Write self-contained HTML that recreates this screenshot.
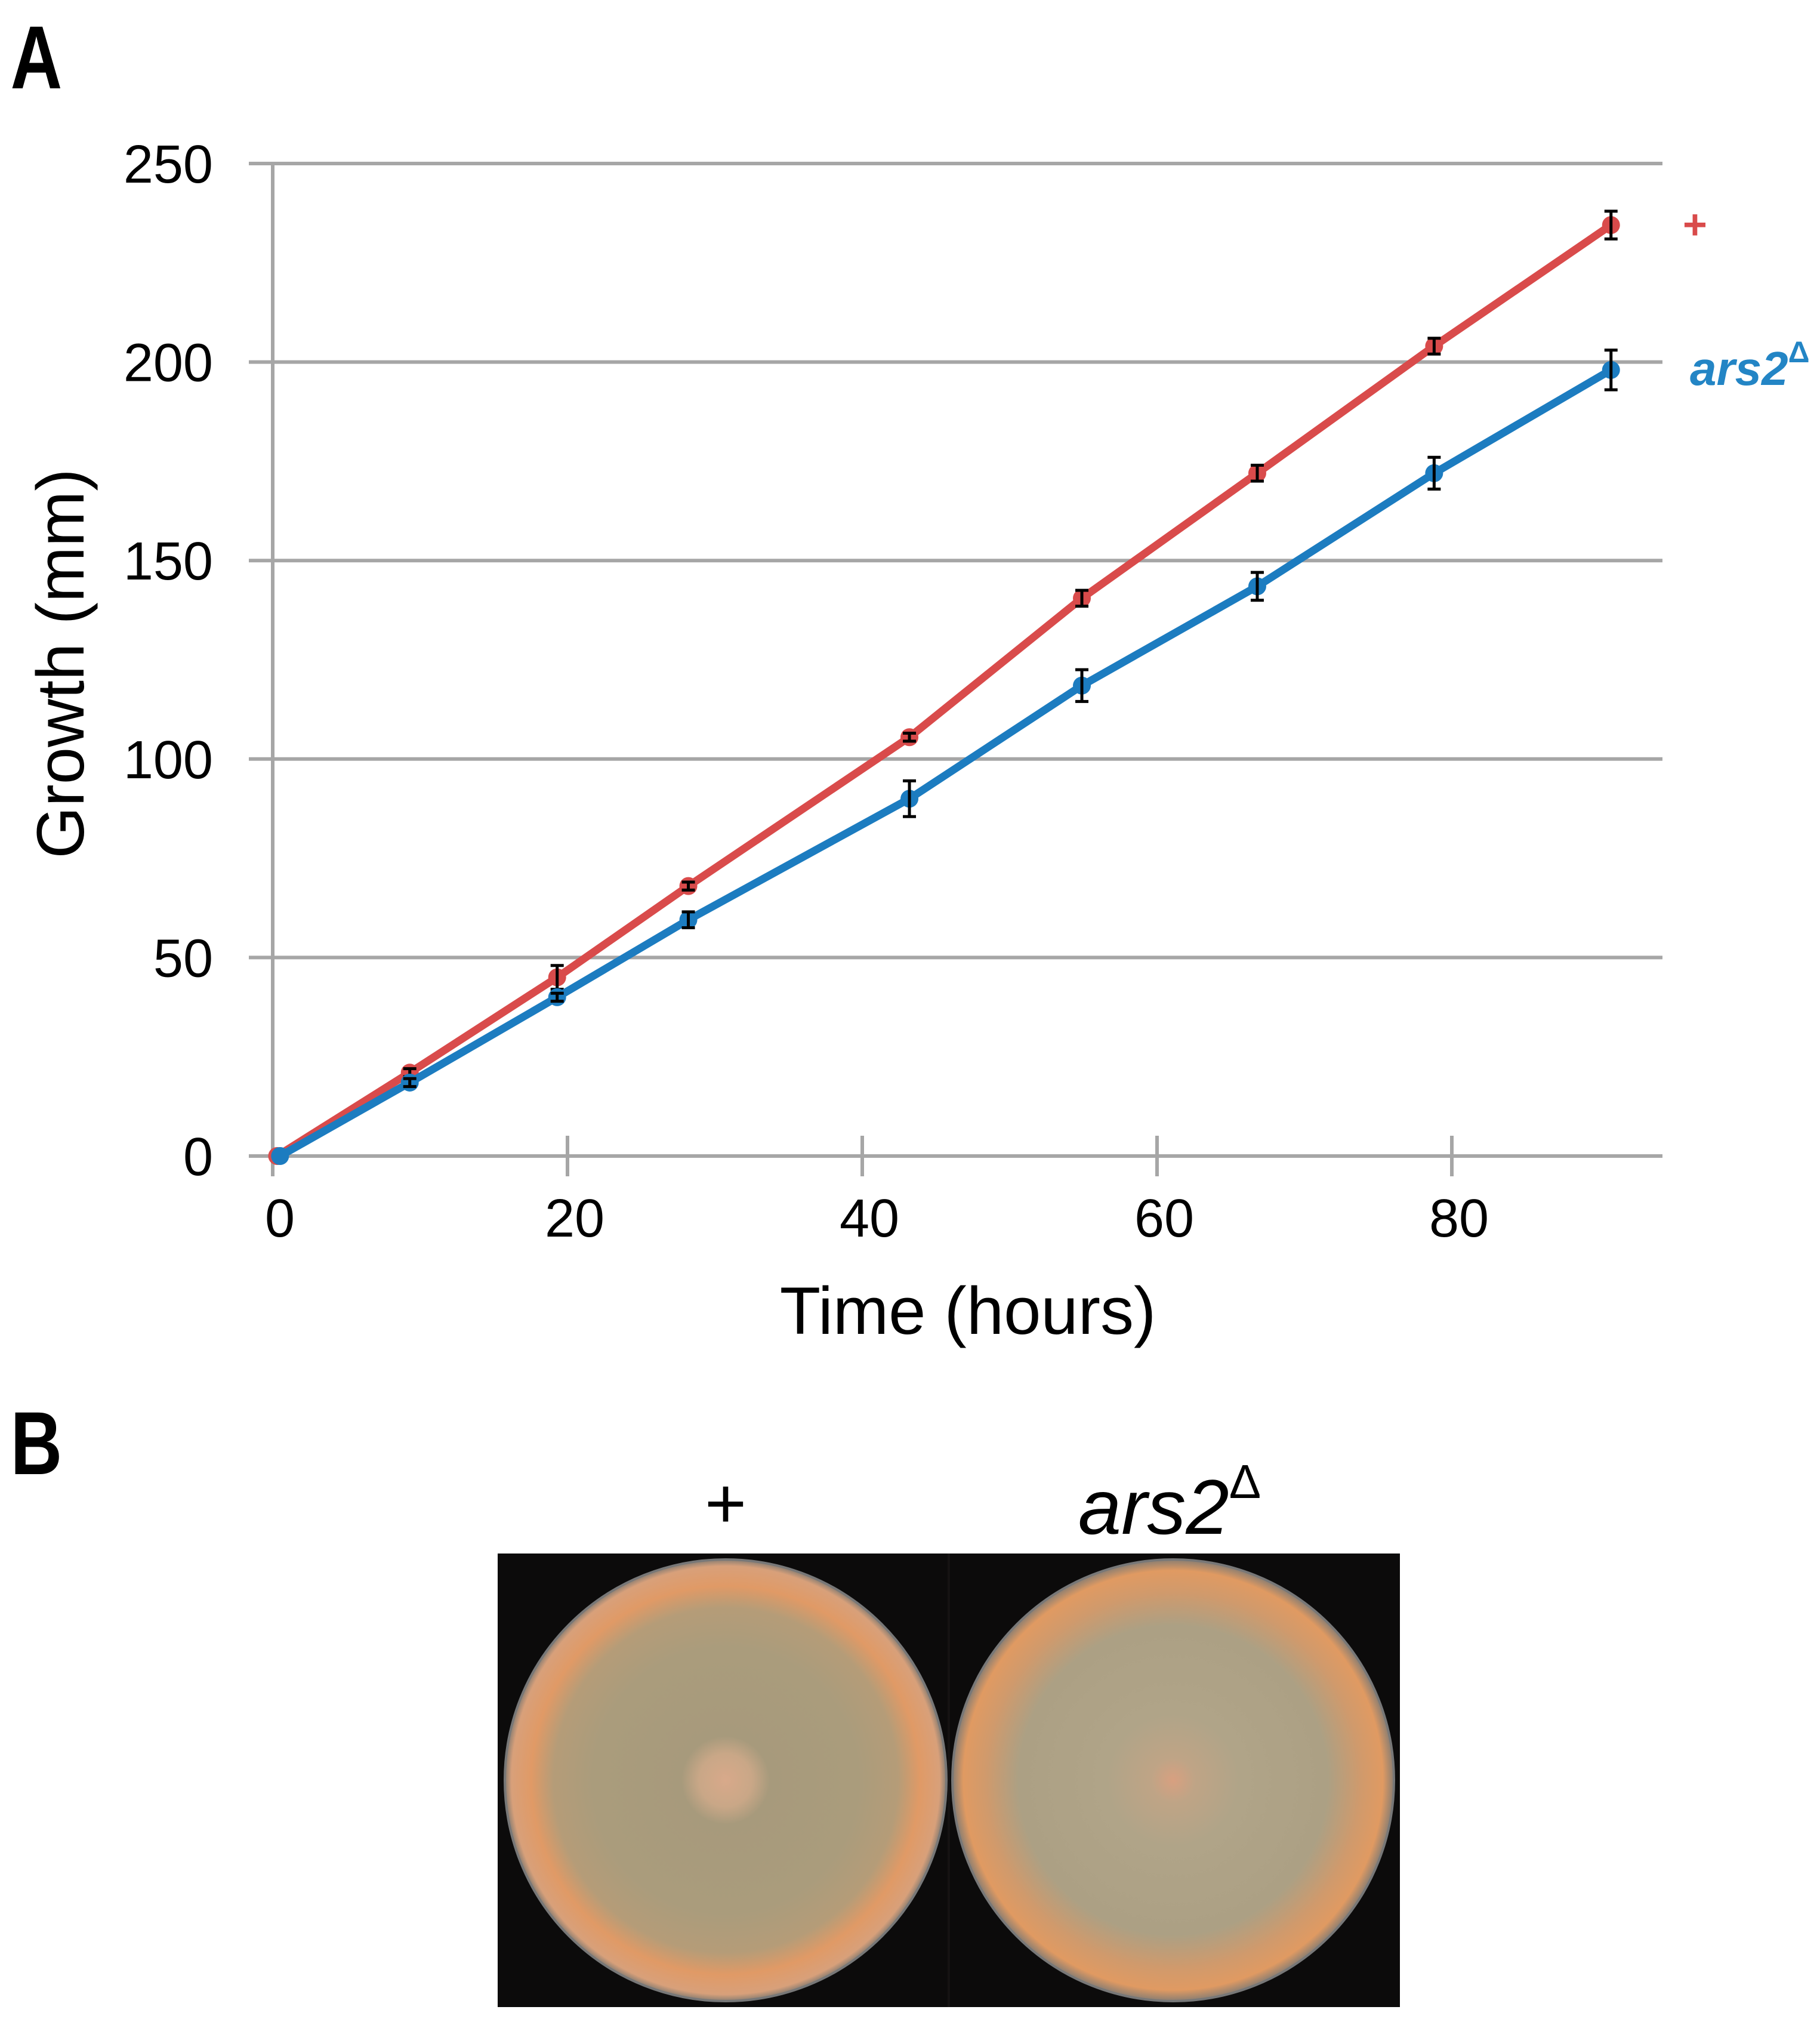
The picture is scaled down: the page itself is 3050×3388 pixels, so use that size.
<!DOCTYPE html>
<html><head><meta charset="utf-8"><style>
html,body{margin:0;padding:0;background:#fff;}
svg{display:block;}
text{font-family:"Liberation Sans",sans-serif;}
</style></head><body>
<svg id="fig" width="3050" height="3388" viewBox="0 0 3050 3388" xmlns="http://www.w3.org/2000/svg">
<defs>
<radialGradient id="plateA" cx="50%" cy="50%" r="50%">
<stop offset="0" stop-color="#d8a98a"/>
<stop offset="0.12" stop-color="#c9a787"/>
<stop offset="0.2" stop-color="#a79a7c"/>
<stop offset="0.6" stop-color="#aa9c7c"/>
<stop offset="0.78" stop-color="#b59c78"/>
<stop offset="0.88" stop-color="#e09a66"/>
<stop offset="0.97" stop-color="#d8a07a"/>
<stop offset="1" stop-color="#8a7e72"/>
</radialGradient>
<radialGradient id="plateB" cx="50%" cy="50%" r="50%">
<stop offset="0" stop-color="#d8a080"/>
<stop offset="0.1" stop-color="#bfa486"/>
<stop offset="0.3" stop-color="#b0a488"/>
<stop offset="0.7" stop-color="#aca084"/>
<stop offset="0.85" stop-color="#d09a6c"/>
<stop offset="0.95" stop-color="#e09a62"/>
<stop offset="1" stop-color="#8a7e72"/>
</radialGradient>
</defs>
<text x="22" y="148" font-size="150" font-weight="bold" transform="scale(0.8,1)" style="font-family:'Liberation Sans Narrow','Liberation Sans',sans-serif">A</text>
<g id="chart"></g>
<text transform="translate(140,1112) rotate(-90)" text-anchor="middle" font-size="112">Growth (mm)</text>
<text x="1622" y="2235" text-anchor="middle" font-size="112">Time (hours)</text>
<text x="2820" y="400" font-size="70" font-weight="bold" fill="#d94b4b">+</text>
<text x="2832" y="645" font-size="80" font-weight="bold" font-style="italic" fill="#2385c5">ars2<tspan font-size="50" dy="-38" font-style="normal">Δ</tspan></text>

<text x="22" y="2470" font-size="150" font-weight="bold" transform="scale(0.8,1)" style="font-family:'Liberation Sans Narrow','Liberation Sans',sans-serif">B</text>
<text x="1216" y="2560" text-anchor="middle" font-size="120">+</text>
<text x="1960" y="2570" text-anchor="middle" font-size="130" font-style="italic">ars2<tspan font-size="80" dy="-60" font-style="normal">Δ</tspan></text>
<g>
<rect x="834" y="2603" width="1512" height="760" fill="#0c0b0b"/>
<rect x="1588" y="2603" width="4" height="760" fill="#151313"/>
<circle cx="1216" cy="2983" r="370" fill="url(#plateA)" stroke="#777" stroke-width="4"/>
<circle cx="1966" cy="2983" r="370" fill="url(#plateB)" stroke="#777" stroke-width="4"/>
</g>
</svg>
<script>
const xTicks = [0, 20, 40, 60, 80];
const yTicks = [0, 50, 100, 150, 200, 250];
const timeWT = [0.3, 9.3, 19.3, 28.2, 43.2, 54.9, 66.8, 78.8, 90.8];
const growthWT = [0, 21, 45, 68, 105.5, 140.5, 172, 204, 234.5];
const errWT = [0, 1, 3, 1, 1, 2, 2, 2, 3.5];
const timeArs = [0.5, 9.3, 19.3, 28.2, 43.2, 54.9, 66.8, 78.8, 90.8];
const growthArs = [0, 18.5, 40, 59.5, 90, 118.5, 143.5, 172, 198];
const errArs = [0, 1, 1, 2, 4.5, 4, 3.5, 4, 5];

const NS = 'http://www.w3.org/2000/svg';
const g = document.getElementById('chart');
const X0 = 457, PXX = 24.7, Y0 = 1937, PXY = 6.652, XR = 2786;
const sx = v => X0 + v * PXX;
const sy = v => Y0 - v * PXY;
function mk(tag, attrs) { const e = document.createElementNS(NS, tag); for (const k in attrs) e.setAttribute(k, attrs[k]); g.appendChild(e); return e; }

yTicks.forEach(t => {
  const l = mk('line', {x1: X0 - 40, x2: XR, y1: sy(t), y2: sy(t), stroke: '#a6a6a6', 'stroke-width': 6});
  
  
  const tx = mk('text', {x: 357, y: sy(t) + 32, 'text-anchor': 'end', 'font-size': 90});
  tx.textContent = t;
  
  
});
const ax = mk('line', {x1: X0, x2: X0, y1: sy(250), y2: Y0 + 34, stroke: '#a6a6a6', 'stroke-width': 6});


xTicks.forEach(t => {
  const l = mk('line', {x1: sx(t), x2: sx(t), y1: Y0 - 34, y2: Y0 + 34, stroke: '#a6a6a6', 'stroke-width': 6});
  
  
  const tx = mk('text', {x: sx(t) + 12, y: 2072, 'text-anchor': 'middle', 'font-size': 90});
  tx.textContent = t;
  
  
});

function series(xs, ys, es, color, name) {
  const pts = xs.map((x, i) => sx(x) + ',' + sy(ys[i])).join(' ');
  const pl = mk('polyline', {points: pts, fill: 'none', stroke: color, 'stroke-width': 13, 'stroke-linejoin': 'round'});
  
  
  xs.forEach((x, i) => {
    const c = mk('circle', {cx: sx(x), cy: sy(ys[i]), r: 15, fill: color});
    
    
    if (es[i] > 0) {
      const top = sy(ys[i] + es[i]), bot = sy(ys[i] - es[i]), cx = sx(x);
      const e = mk('path', {d: `M${cx},${top}V${bot}M${cx-11},${top}H${cx+11}M${cx-11},${bot}H${cx+11}`, stroke: '#000', 'stroke-width': 5, fill: 'none'});
      
      
    }
  });
}
series(timeWT, growthWT, errWT, '#d94b4b', 'wildtype');
series(timeArs, growthArs, errArs, '#1c7cc0', 'ars2-delta');
</script>
</body></html>
